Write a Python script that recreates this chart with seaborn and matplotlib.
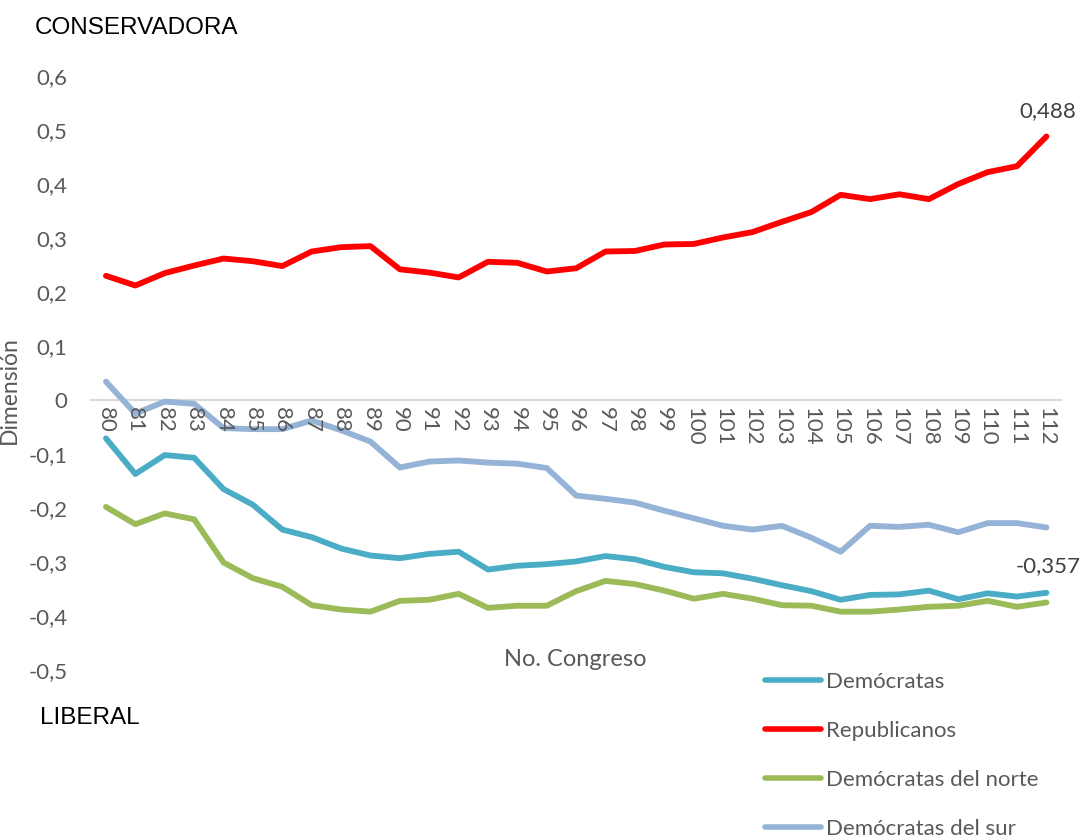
import matplotlib
matplotlib.use("Agg")
import matplotlib.pyplot as plt
import seaborn as sns
import pandas as pd
from matplotlib.ticker import FuncFormatter

# datos (No. Congreso 80-112)
congresos = list(range(80, 113))
democratas = [-0.071, -0.137, -0.102, -0.107, -0.165, -0.194, -0.240, -0.254, -0.275, -0.288,
              -0.293, -0.285, -0.281, -0.314, -0.307, -0.304, -0.299, -0.289, -0.295, -0.309,
              -0.319, -0.321, -0.331, -0.343, -0.354, -0.370, -0.361, -0.360, -0.353, -0.369,
              -0.358, -0.364, -0.357]
republicanos = [0.230, 0.212, 0.235, 0.249, 0.262, 0.257, 0.248, 0.275, 0.283, 0.285,
                0.242, 0.236, 0.227, 0.256, 0.254, 0.238, 0.244, 0.275, 0.276, 0.288,
                0.289, 0.301, 0.311, 0.330, 0.348, 0.380, 0.372, 0.381, 0.372, 0.400,
                0.422, 0.433, 0.488]
dem_norte = [-0.198, -0.230, -0.210, -0.221, -0.301, -0.330, -0.346, -0.380, -0.388, -0.392,
             -0.372, -0.370, -0.359, -0.385, -0.381, -0.381, -0.354, -0.335, -0.341, -0.353,
             -0.368, -0.359, -0.368, -0.380, -0.381, -0.392, -0.392, -0.388, -0.383, -0.381,
             -0.372, -0.383, -0.375]
dem_sur = [0.034, -0.025, -0.003, -0.007, -0.052, -0.054, -0.054, -0.038, -0.056, -0.077,
           -0.125, -0.114, -0.112, -0.116, -0.118, -0.126, -0.177, -0.183, -0.190, -0.205,
           -0.219, -0.233, -0.240, -0.233, -0.255, -0.281, -0.233, -0.235, -0.231, -0.245,
           -0.228, -0.228, -0.236]

series = ["Demócratas", "Republicanos", "Demócratas del norte", "Demócratas del sur"]
colores = {"Demócratas": "#4BACC6", "Republicanos": "#FF0000",
           "Demócratas del norte": "#9BBB59", "Demócratas del sur": "#95B3D7"}

df = pd.DataFrame({
    "congreso": congresos * 4,
    "valor": democratas + republicanos + dem_norte + dem_sur,
    "serie": sum([[s] * len(congresos) for s in series], []),
})

sns.set_style("white")
plt.rcParams['font.family'] = ['Lato', 'DejaVu Sans']

fig = plt.figure(figsize=(10.8, 8.4), dpi=100)
ax = fig.add_axes([0.0845, 0.2024, 0.898, 0.7071])

sns.lineplot(data=df, x="congreso", y="valor", hue="serie", hue_order=series,
             palette=colores, linewidth=4.2, legend=False, ax=ax)

ax.set_xlim(79.5, 112.5)
ax.set_ylim(-0.5, 0.6)
ax.set_yticks([i / 10 for i in range(-5, 7)])
ax.set_xticks(congresos)
ax.set_xticklabels([str(c) for c in congresos])
ax.yaxis.set_major_formatter(FuncFormatter(lambda v, p: ("%g" % round(v, 1)).replace(".", ",")))
ax.set_axisbelow(False)  # etiquetas del eje encima de las lineas

for s in ["top", "right", "left"]:
    ax.spines[s].set_visible(False)
ax.spines["bottom"].set_position(("data", 0))
ax.spines["bottom"].set_color("#D9D9D9")
ax.spines["bottom"].set_linewidth(1.5)
ax.spines["bottom"].set_zorder(0)

ax.tick_params(axis="y", length=0, pad=17, labelsize=16, labelcolor="#595959")
ax.tick_params(axis="x", length=0, pad=5, labelsize=16, labelcolor="#595959",
               labelrotation=-90)

ax.set_xlabel("No. Congreso", fontsize=17, color="#595959")
ax.xaxis.set_label_coords(0.499, 0.017)
ax.xaxis.label.set_va("center")
ax.set_ylabel("Dimensión", fontsize=16.5, color="#595959")
ax.yaxis.set_label_coords(-0.0735, 0.471)

# etiquetas de datos
ax.annotate(("%.3f" % republicanos[-1]).replace(".", ","), (congresos[-1], republicanos[-1]),
            xytext=(1, 18), textcoords="offset points", ha="center", va="center",
            fontsize=16, color="#404040")
ax.annotate(("%.3f" % democratas[-1]).replace(".", ","), (congresos[-1], democratas[-1]),
            xytext=(1, 19), textcoords="offset points", ha="center", va="center",
            fontsize=16, color="#404040")

fig.text(35 / 1080, 1 - 28 / 840, "CONSERVADORA", fontsize=17.5, color="black",
         family="Liberation Sans", va="center", ha="left")
fig.text(40 / 1080, 1 - 718 / 840, "LIBERAL", fontsize=17.5, color="black",
         family="Liberation Sans", va="center", ha="left")

handles = ax.get_lines()[:4]
leg = fig.legend(handles, series, loc="upper left", bbox_to_anchor=(765 / 1080, 1 - 672 / 840),
                 frameon=False, fontsize=16, handlelength=2.5, handletextpad=0.25,
                 labelspacing=1.3, borderpad=0, borderaxespad=0)
for t in leg.get_texts():
    t.set_color("#595959")
for l in leg.get_lines():
    l.set_linewidth(4)
    l.set_solid_capstyle("round")

plt.savefig("out.png", dpi=100)
plt.close()
